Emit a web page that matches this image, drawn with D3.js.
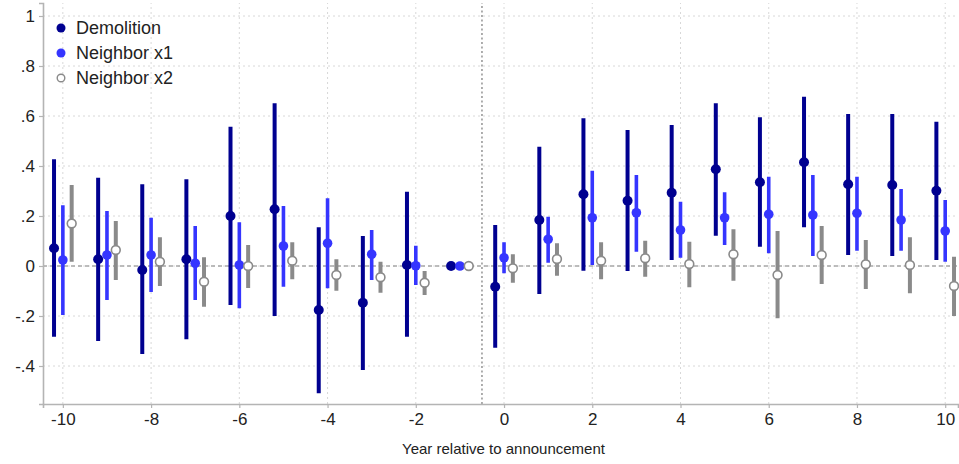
<!DOCTYPE html>
<html>
<head>
<meta charset="utf-8">
<script src="https://cdn.jsdelivr.net/npm/d3@7"></script>
<style>
  body { margin: 0; background: #fff; }
  text { font-family: "Liberation Sans", Arial, sans-serif; fill: #222; }
</style>
</head>
<body>
<div id="chart"></div>
<script>
// event-study estimates
const years = [-10,-9,-8,-7,-6,-5,-4,-3,-2,-1,0,1,2,3,4,5,6,7,8,9,10]

const demoEst = [0.071,0.027,-0.016,0.027,0.200,0.227,-0.176,-0.147,0.004,0,-0.083,0.184,0.287,0.261,0.293,0.387,0.335,0.415,0.327,0.324,0.301]
const demoLo  = [-0.283,-0.300,-0.352,-0.293,-0.156,-0.200,-0.509,-0.416,-0.283,0,-0.327,-0.112,-0.019,-0.020,0.024,0.121,0.077,0.155,0.044,0.040,0.024]
const demoHi  = [0.427,0.353,0.327,0.347,0.557,0.651,0.155,0.120,0.297,0,0.164,0.477,0.591,0.544,0.564,0.651,0.595,0.677,0.608,0.608,0.577]

const nb1Est = [0.024,0.044,0.044,0.011,0.004,0.080,0.091,0.047,0.001,0,0.033,0.107,0.193,0.213,0.144,0.193,0.207,0.204,0.211,0.184,0.140]
const nb1Lo  = [-0.196,-0.136,-0.104,-0.136,-0.169,-0.083,-0.089,-0.056,-0.076,0,-0.029,0.013,0.004,0.057,0.033,0.084,0.051,0.040,0.061,0.061,0.017]
const nb1Hi  = [0.243,0.220,0.193,0.160,0.175,0.240,0.271,0.144,0.081,0,0.095,0.197,0.381,0.364,0.257,0.295,0.357,0.364,0.357,0.308,0.264]

const nb2Est = [0.170,0.064,0.017,-0.063,0.000,0.021,-0.036,-0.045,-0.067,0,-0.009,0.028,0.021,0.031,0.008,0.047,-0.036,0.044,0.007,0.004,-0.080]
const nb2Lo  = [0.017,-0.056,-0.080,-0.163,-0.088,-0.053,-0.099,-0.107,-0.116,0,-0.067,-0.039,-0.053,-0.043,-0.085,-0.059,-0.209,-0.072,-0.092,-0.109,-0.200]
const nb2Hi  = [0.324,0.180,0.115,0.035,0.084,0.095,0.027,0.017,-0.020,0,0.047,0.091,0.095,0.101,0.097,0.147,0.140,0.160,0.104,0.115,0.037]

const xTicks = [-10,-8,-6,-4,-2,0,2,4,6,8,10]
const xTickLabels = ["-10","-8","-6","-4","-2","0","2","4","6","8","10"]
const yTicks = [-0.4,-0.2,0,0.2,0.4,0.6,0.8,1]
const yTickLabels = ["-.4","-.2","0",".2",".4",".6",".8","1"]
const legendNames = ["Demolition", "Neighbor x1", "Neighbor x2"]

const width = 959, height = 464

let x = d3.scaleLinear().domain([-10.45, 10.29]).range([43, 958])
let y = d3.scaleLinear().domain([-0.552, 1.052]).range([404, 3])

let svg = d3.select("#chart").append("svg")
  .attr("width", width)
  .attr("height", height)

// dotted grid
svg.append("g").selectAll("line")
  .data(yTicks)
  .enter().append("line")
  .attr("x1", x.range()[0]).attr("x2", x.range()[1])
  .attr("y1", d => y(d)).attr("y2", d => y(d))
  .attr("stroke", "#d8d8d8").attr("stroke-width", 1)
  .attr("stroke-dasharray", "2,3")

svg.append("g").selectAll("line")
  .data(xTicks)
  .enter().append("line")
  .attr("x1", d => x(d)).attr("x2", d => x(d))
  .attr("y1", y.range()[0]).attr("y2", y.range()[1])
  .attr("stroke", "#d8d8d8").attr("stroke-width", 1)
  .attr("stroke-dasharray", "2,3")

// reference lines
svg.append("line")
  .attr("x1", x.range()[0]).attr("x2", x.range()[1])
  .attr("y1", y(0)).attr("y2", y(0))
  .attr("stroke", "#a8a8a8").attr("stroke-width", 1.6)
  .attr("stroke-dasharray", "4,3")

svg.append("line")
  .attr("x1", x(-0.5)).attr("x2", x(-0.5))
  .attr("y1", y.range()[0]).attr("y2", y.range()[1])
  .attr("stroke", "#9a9a9a").attr("stroke-width", 1.6)
  .attr("stroke-dasharray", "2,2.5")

// axes
let xAxis = svg.append("g")
  .attr("transform", "translate(0," + y.range()[0] + ")")
  .call(d3.axisBottom(x).tickValues(xTicks).tickFormat((d, i) => xTickLabels[i]).tickSize(4).tickPadding(5))
let yAxis = svg.append("g")
  .attr("transform", "translate(" + x.range()[0] + ",0)")
  .call(d3.axisLeft(y).tickValues(yTicks).tickFormat((d, i) => yTickLabels[i]).tickSize(4).tickPadding(4))

;[xAxis, yAxis].forEach(g => {
  g.select(".domain").attr("stroke", "#b4b4b4").attr("stroke-width", 1.6)
  g.selectAll(".tick line").attr("stroke", "#b4b4b4").attr("stroke-width", 1.2)
  g.selectAll(".tick text").style("font-size", "17px").attr("fill", "#222")
})

svg.append("text")
  .attr("x", (x.range()[0] + x.range()[1]) / 2 + 3)
  .attr("y", 454)
  .attr("text-anchor", "middle")
  .style("font-size", "15px")
  .text("Year relative to announcement")

// the three series, dodged around each year
const series = [
  { est: demoEst, lo: demoLo, hi: demoHi, dx: -0.2, color: "#000090", barW: 4, r: 5, hollow: false },
  { est: nb1Est,  lo: nb1Lo,  hi: nb1Hi,  dx: 0,    color: "#3535ff", barW: 3.6, r: 4.8, hollow: false },
  { est: nb2Est,  lo: nb2Lo,  hi: nb2Hi,  dx: 0.2,  color: "#8a8a8a", barW: 4, r: 4.4, hollow: true }
]

series.forEach(s => {
  let g = svg.append("g")
  g.selectAll("line")
    .data(years)
    .enter().append("line")
    .attr("x1", d => x(d + s.dx)).attr("x2", d => x(d + s.dx))
    .attr("y1", (d, i) => y(s.lo[i])).attr("y2", (d, i) => y(s.hi[i]))
    .attr("stroke", s.color).attr("stroke-width", s.barW)
  g.selectAll("circle")
    .data(years)
    .enter().append("circle")
    .attr("cx", d => x(d + s.dx))
    .attr("cy", (d, i) => y(s.est[i]))
    .attr("r", s.r)
    .attr("fill", s.hollow ? "#fff" : s.color)
    .attr("stroke", s.color)
    .attr("stroke-width", s.hollow ? 1.6 : 0)
})

// legend
let legend = svg.append("g")
legendNames.forEach((name, i) => {
  let s = series[i]
  let ly = 28 + i * 25
  legend.append("circle")
    .attr("cx", 61).attr("cy", ly)
    .attr("r", s.hollow ? 3.8 : 4.5)
    .attr("fill", s.hollow ? "#fff" : s.color)
    .attr("stroke", s.color)
    .attr("stroke-width", s.hollow ? 1.4 : 0)
  legend.append("text")
    .attr("x", 76).attr("y", ly + 6)
    .style("font-size", "18px")
    .text(name)
})
</script>
</body>
</html>
